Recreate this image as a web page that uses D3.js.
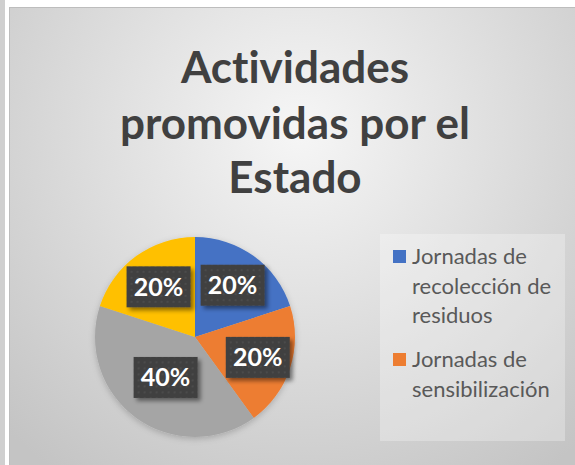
<!DOCTYPE html>
<html><head><meta charset="utf-8">
<script src="https://cdn.jsdelivr.net/npm/d3@7"></script>
<style>html,body{margin:0;padding:0;background:#fff;}svg{display:block;}text{font-variant-ligatures:none;font-feature-settings:"liga" 0;}</style>
</head><body>
<script>
// Data
const categories = ["Jornadas de recolección de residuos", "Jornadas de sensibilización", "Categoría 3", "Categoría 4"];
const values = [1, 1, 2, 1];
const colors = ["#4472C4", "#ED7D31", "#A5A5A5", "#FFC000"];
const titleLines = ["Actividades", "promovidas por el", "Estado"];
const legendShown = [
  ["Jornadas de", "recolección de", "residuos"],
  ["Jornadas de", "sensibilización"]
];

const W = 575, H = 465;
const svg = d3.select("body").append("svg").attr("width", W).attr("height", H);
const defs = svg.append("defs");

const bg = defs.append("radialGradient").attr("id", "bg")
  .attr("gradientUnits", "userSpaceOnUse").attr("cx", 300).attr("cy", 130).attr("r", 420);
bg.append("stop").attr("offset", "0%").attr("stop-color", "#f6f6f6");
bg.append("stop").attr("offset", "100%").attr("stop-color", "#c4c4c4");

const pat = defs.append("pattern").attr("id", "dots").attr("patternUnits", "userSpaceOnUse")
  .attr("width", 6).attr("height", 6);
pat.append("rect").attr("width", 6).attr("height", 6).attr("fill", "#404040");
pat.append("circle").attr("cx", 3).attr("cy", 3).attr("r", 1).attr("fill", "#4f4f4f");

const sh = defs.append("filter").attr("id", "sh").attr("x", "-20%").attr("y", "-20%").attr("width", "150%").attr("height", "150%");
sh.append("feDropShadow").attr("dx", 3).attr("dy", 3).attr("stdDeviation", 2).attr("flood-color", "#000").attr("flood-opacity", 0.45);

const psh = defs.append("filter").attr("id", "psh").attr("x", "-20%").attr("y", "-20%").attr("width", "140%").attr("height", "140%");
psh.append("feDropShadow").attr("dx", 0).attr("dy", 2).attr("stdDeviation", 3).attr("flood-color", "#000").attr("flood-opacity", 0.2);

// left strip
svg.append("rect").attr("x", 0).attr("y", 0).attr("width", 5).attr("height", H).attr("fill", "#cfcfcf");
// chart area
svg.append("rect").attr("x", 9.5).attr("y", 7.5).attr("width", W).attr("height", H)
  .attr("fill", "url(#bg)").attr("stroke", "#bdbdbd").attr("stroke-width", 1);

// Title
const title = svg.append("text").attr("text-anchor", "middle")
  .attr("font-family", "Lato, 'Open Sans', sans-serif").attr("font-weight", 700)
  .attr("font-size", 44).attr("fill", "#404040");
const titleBase = [83, 139, 193];
titleLines.forEach((t, i) => title.append("tspan").attr("x", 295).attr("y", titleBase[i]).text(t));

// Pie
const cx = 195, cy = 337, r = 100;
const pie = d3.pie().sort(null).value(d => d)(values);
const arc = d3.arc().innerRadius(0).outerRadius(r);
const g = svg.append("g").attr("transform", `translate(${cx},${cy})`);
g.append("g").attr("filter", "url(#psh)").selectAll("path").data(pie).join("path")
  .attr("d", arc).attr("fill", (d, i) => colors[i]);

const total = d3.sum(values);
const labelRadius = [0.64, 0.66, 0.5, 0.62];
const lbl = g.selectAll("g.lbl").data(pie).join("g").attr("class", "lbl")
  .attr("transform", (d, i) => {
    const a = (d.startAngle + d.endAngle) / 2;
    const rr = r * labelRadius[i];
    return `translate(${rr * Math.sin(a)},${-rr * Math.cos(a)})`;
  });
lbl.append("rect").attr("x", -32).attr("y", -20.5).attr("width", 64).attr("height", 41)
  .attr("fill", "url(#dots)").attr("filter", "url(#sh)");
lbl.append("text").attr("text-anchor", "middle").attr("y", 9)
  .attr("font-family", "Lato, 'Open Sans', sans-serif").attr("font-weight", 700)
  .attr("font-size", 25).attr("fill", "#fff")
  .text(d => d3.format(".0%")(d.value / total));

// Legend
svg.append("rect").attr("x", 380).attr("y", 234).attr("width", 185).attr("height", 207)
  .attr("fill", "#ffffff").attr("fill-opacity", 0.28);
const legStart = [264, 367];
legendShown.forEach((lines, i) => {
  svg.append("rect").attr("x", 393).attr("y", legStart[i] - 14).attr("width", 13).attr("height", 13)
    .attr("fill", colors[i]);
  const t = svg.append("text").attr("font-family", "Lato, 'Open Sans', sans-serif")
    .attr("font-size", 22).attr("fill", "#595959");
  lines.forEach((l, j) => t.append("tspan").attr("x", 412).attr("y", legStart[i] + j * 29.5).text(l));
});
</script>
</body></html>
